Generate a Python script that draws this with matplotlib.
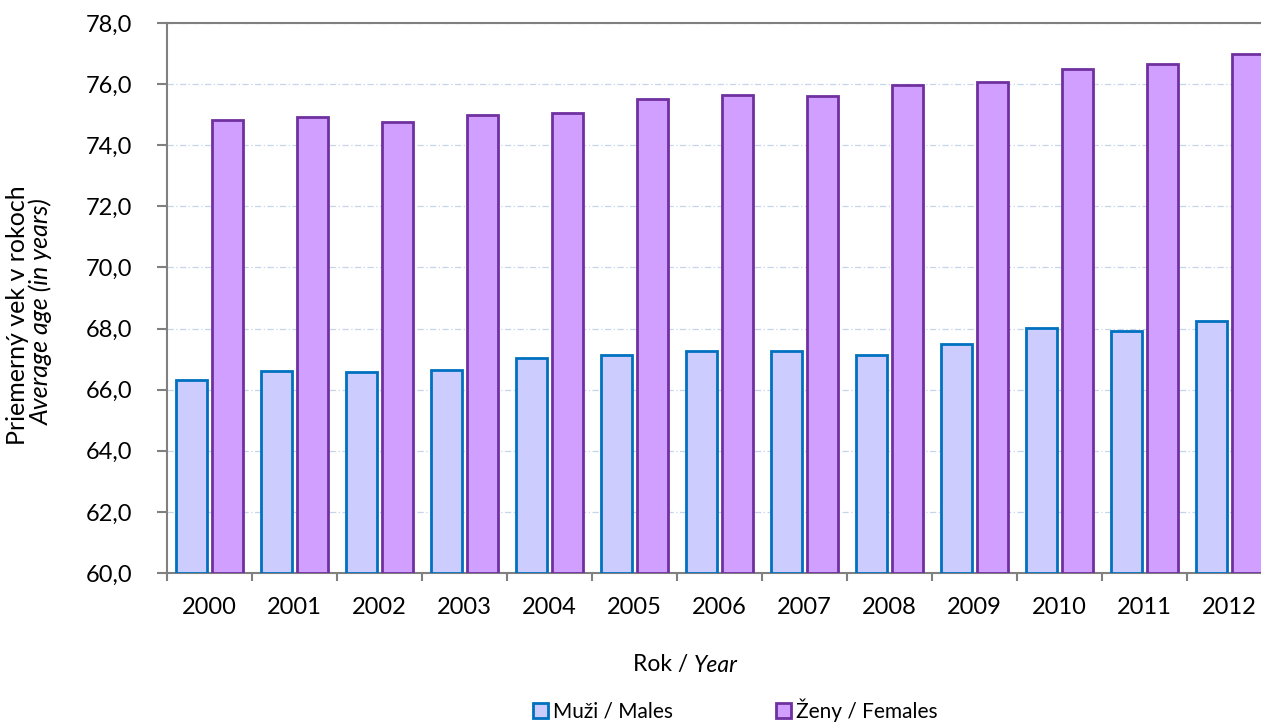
import numpy as np
import matplotlib.pyplot as plt
from matplotlib.patches import Patch
from matplotlib.ticker import FuncFormatter

plt.rcParams['font.family'] = ['Lato', 'DejaVu Sans']

years = ['2000', '2001', '2002', '2003', '2004', '2005', '2006',
         '2007', '2008', '2009', '2010', '2011', '2012']
males = [66.33, 66.6, 66.57, 66.65, 67.04, 67.15, 67.25, 67.28, 67.15, 67.49, 68.03, 67.92, 68.25]
females = [74.82, 74.92, 74.76, 74.99, 75.05, 75.51, 75.64, 75.62, 75.97, 76.08, 76.49, 76.65, 76.98]

male_fill, male_edge = '#CCCCFF', '#0070C0'
fem_fill, fem_edge = '#D09FFF', '#7030A0'

fig = plt.figure(figsize=(12.61, 7.24), dpi=100)
ax = fig.add_axes([167 / 1261, 1 - 573 / 724, 1105 / 1261, 550 / 724])

x = np.arange(len(years))
w = 0.37
ax.bar(x - 0.21, np.array(males) - 60, w, bottom=60, color=male_fill,
       edgecolor=male_edge, linewidth=2, zorder=3)
ax.bar(x + 0.21, np.array(females) - 60, w, bottom=60, color=fem_fill,
       edgecolor=fem_edge, linewidth=2, zorder=3)

ax.set_xlim(-0.5, len(years) - 0.5)
ax.set_ylim(60, 78)
ax.set_yticks(np.arange(60, 78.1, 2))
ax.yaxis.set_major_formatter(FuncFormatter(lambda v, p: f'{v:.1f}'.replace('.', ',')))
ax.grid(axis='y', color='#C5D5EA', linestyle=(0, (5, 2, 1, 2)), linewidth=0.9, zorder=0)

ax.set_xticks(x)
ax.set_xticklabels(years)
ax.set_xticks(np.arange(-0.5, len(years), 1), minor=True)
ax.tick_params(axis='x', which='major', length=0, pad=17, labelsize=17)
ax.tick_params(axis='x', which='minor', length=6, color='#808080', width=1.5)
ax.tick_params(axis='y', length=7, color='#808080', width=1.5, labelsize=17, pad=18)

for s in ['left', 'bottom', 'top']:
    ax.spines[s].set_color('#808080')
    ax.spines[s].set_linewidth(1.5)
ax.spines['right'].set_visible(False)

fig.text(18 / 1261, 1 - 315 / 724, 'Priemerný vek v rokoch', rotation=90,
         ha='center', va='center', fontsize=18)
fig.text(41 / 1261, 1 - 312 / 724, 'Average age (in years)', rotation=90,
         ha='center', va='center', fontsize=18, style='italic')

fig.text(694 / 1261, 1 - 665 / 724, 'Rok / ', ha='right', va='center', fontsize=16.5)
fig.text(694 / 1261, 1 - 665 / 724, 'Year', ha='left', va='center', fontsize=16.5, style='italic')

handles = [Patch(facecolor=male_fill, edgecolor=male_edge, linewidth=2, label='Muži / Males'),
           Patch(facecolor=fem_fill, edgecolor=fem_edge, linewidth=2, label='Ženy / Females')]
fig.legend(handles=handles, loc='center', bbox_to_anchor=(735 / 1261, 1 - 710 / 724),
           ncol=2, frameon=False, fontsize=15, handlelength=0.75, handleheight=0.75,
           handletextpad=0.2, columnspacing=4.95, borderaxespad=0)

fig.savefig('out.png', dpi=100)
